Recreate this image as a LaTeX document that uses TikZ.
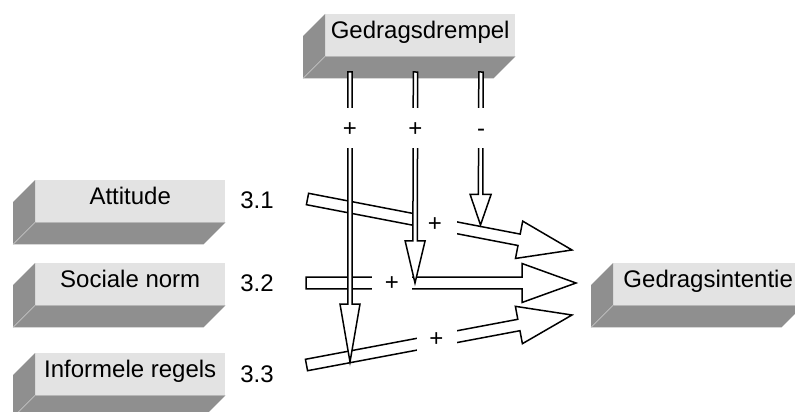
\documentclass[tikz,border=0pt]{standalone}
\usepackage{fontspec}
\setmainfont{Liberation Sans}
\usetikzlibrary{calc}

\definecolor{facegray}{HTML}{E3E3E3}
\definecolor{sidegray}{HTML}{8F8F8F}
\definecolor{edgegray}{HTML}{C4C4C4}

\tikzset{
  face/.style={fill=facegray, anchor=north west, minimum width=190pt,
    minimum height=42pt, inner xsep=0pt, inner ysep=0pt,
    text height=24pt, text depth=18pt, font=\fontsize{24}{28}\selectfont},
  side/.style={fill=sidegray},
  sideedge/.style={draw=edgegray, line width=0.6pt},
  numlbl/.style={anchor=base, inner sep=0pt, font=\fontsize{24}{28}\selectfont},
  blockline/.style={draw=black, fill=white, line width=1.5pt, line join=miter},
  hsign/.style={fill=white, inner sep=0pt, minimum height=30pt,
    text height=17pt, text depth=0pt, font=\fontsize{24}{28}\selectfont},
  vsign/.style={fill=white, inner sep=0pt, minimum width=20pt, minimum height=40pt,
    text height=17pt, text depth=0pt, font=\fontsize{24}{28}\selectfont},
}

% raised slab: front face node plus darker left and bottom faces
\newcommand{\slab}[3]{%
  \node[face] (#1) at (#2) {#3};
  \fill[side] (#1.north west) -- ++(-22pt,-22pt)
    -- ([shift={(-22pt,-22pt)}]#1.south west)
    -- ([shift={(-22pt,-22pt)}]#1.south east)
    -- (#1.south east) -- (#1.south west) -- cycle;
  \draw[sideedge] ([shift={(-22pt,-22pt)}]#1.south west) -- (#1.south west);
}

% hollow block arrow from #1 to #2, half shaft width #3, half head width #4;
% the head takes the last fifth of the length
\newcommand{\blockarrow}[4]{%
  \pgfpointdiff{\pgfpointanchor{#1}{center}}{\pgfpointanchor{#2}{center}}%
  \pgfgetlastxy{\badx}{\bady}%
  \pgfmathsetmacro{\baang}{atan2(\bady,\badx)}%
  \pgfmathsetmacro{\balen}{veclen(\badx,\bady)}%
  \pgfmathsetmacro{\babase}{0.8*\balen}%
  \draw[blockline, shift={(#1)}, rotate=\baang]
    (0pt,#3pt) -- (\babase pt,#3pt) -- (\babase pt,#4pt) -- (\balen pt,0pt)
    -- (\babase pt,-#4pt) -- (\babase pt,-#3pt) -- (0pt,-#3pt) -- cycle;
}

\begin{document}
\begin{tikzpicture}[x=1pt, y=-1pt]
\useasboundingbox (0,0) rectangle (795,412);

% slabs
\slab{drempel}{325,14}{Gedragsdrempel}
\slab{attitude}{35,180}{Attitude}
\slab{norm}{35,263}{Sociale norm}
\slab{regels}{35,353}{Informele regels}
\slab{intentie}{613,263}{Gedragsintentie}

% numbers
\node[numlbl] (n31) at (257,208) {3.1};
\node[numlbl] (n32) at (257,291.5) {3.2};
\node[numlbl] (n33) at (257,382) {3.3};

% arrow end points
\coordinate (aS) at (307.5,199);
\coordinate (aE) at (572,250);
\coordinate (bS) at (306,283);
\coordinate (bE) at (576,283);
\coordinate (cS) at (306.5,365);
\coordinate (cE) at (572,315);
\coordinate (v1S) at (350,72);
\coordinate (v1E) at (350,362);
\coordinate (v2S) at (415.5,72);
\coordinate (v2E) at (415,283);
\coordinate (v3S) at (481,72);
\coordinate (v3E) at (480.5,225);

% arrows towards Gedragsintentie
\blockarrow{aS}{aE}{5.8}{19}
\blockarrow{bS}{bE}{5.8}{19.5}
\blockarrow{cS}{cE}{5.8}{19}
\node[hsign, minimum width=44pt] (pa) at (435,223) {+};
\node[hsign, minimum width=40pt] (pb) at (392,282) {+};
\node[hsign, minimum width=40pt] (pc) at (436.5,338) {+};

% arrows from Gedragsdrempel
\blockarrow{v1S}{v1E}{2.2}{10}
\blockarrow{v2S}{v2E}{2.2}{10}
\blockarrow{v3S}{v3E}{2.2}{10.5}
\node[vsign] (p1) at (350,127.5) {+};
\node[vsign] (p2) at (415.5,127.5) {+};
\node[vsign] (p3) at (481,127.5) {-};
\end{tikzpicture}
\end{document}
